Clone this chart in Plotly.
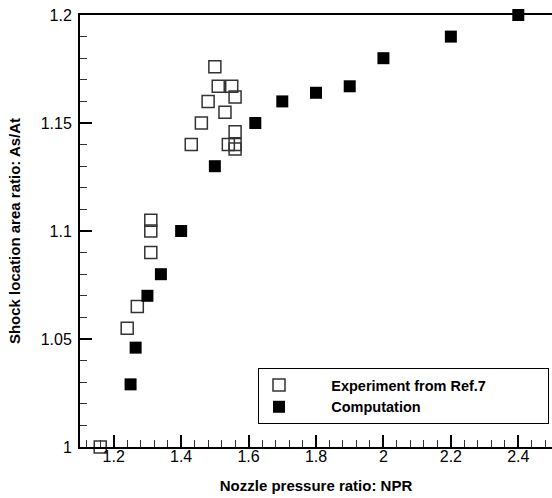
import plotly.graph_objects as go

# Experiment from Ref.7 (open squares)
exp_npr = [1.16, 1.24, 1.27, 1.31, 1.31, 1.31, 1.43, 1.46, 1.48, 1.50, 1.51,
           1.53, 1.54, 1.55, 1.56, 1.56, 1.56, 1.56]
exp_ratio = [1.000, 1.055, 1.065, 1.090, 1.100, 1.105, 1.140, 1.150, 1.160, 1.176, 1.167,
             1.155, 1.140, 1.167, 1.162, 1.146, 1.140, 1.138]

# Computation (filled squares)
comp_npr = [1.25, 1.265, 1.30, 1.34, 1.40, 1.50, 1.62, 1.70, 1.80, 1.90, 2.00, 2.20, 2.40]
comp_ratio = [1.029, 1.046, 1.070, 1.080, 1.100, 1.130, 1.150, 1.160, 1.164, 1.167, 1.180, 1.190, 1.200]

x_tickvals = [1.2, 1.4, 1.6, 1.8, 2.0, 2.2, 2.4]
x_ticktext = ["1.2", "1.4", "1.6", "1.8", "2", "2.2", "2.4"]
y_tickvals = [1.0, 1.05, 1.1, 1.15, 1.2]
y_ticktext = ["1", "1.05", "1.1", "1.15", "1.2"]

FONT = "Arial, 'Liberation Sans', sans-serif"
NB = "\u00a0"
ZW = "\u200b"

fig = go.Figure()
fig.add_trace(go.Scatter(
    x=exp_npr, y=exp_ratio, mode="markers",
    name=NB * 8 + "Experiment from Ref.7" + NB * 14 + ZW,
    marker=dict(symbol="square-open", size=12, color="#333333", line=dict(width=1.5)),
    cliponaxis=False,
))
fig.add_trace(go.Scatter(
    x=comp_npr, y=comp_ratio, mode="markers",
    name=NB * 8 + "Computation",
    marker=dict(symbol="square", size=12, color="black", line=dict(width=0)),
    cliponaxis=False,
))

fig.update_layout(
    width=552, height=498,
    margin=dict(l=80, r=0, t=15, b=51),
    paper_bgcolor="white", plot_bgcolor="white",
    font=dict(family=FONT, color="black"),
    showlegend=True,
    legend=dict(
        x=(258 - 80) / 472, y=(447 - 368) / 432, xanchor="left", yanchor="top",
        bordercolor="black", borderwidth=1, bgcolor="white",
        font=dict(family=FONT, size=14.5, color="black", weight="bold"),
        tracegroupgap=0,
    ),
)

fig.update_xaxes(
    range=[1.1, 2.5],
    tickmode="array", tickvals=x_tickvals, ticktext=x_ticktext,
    ticks="inside", ticklen=12, tickwidth=2, tickcolor="black",
    minor=dict(tickmode="linear", tick0=1.2, dtick=0.04, ticks="inside", ticklen=7,
               tickwidth=1, tickcolor="#333333", showgrid=False),
    showline=True, linewidth=2, linecolor="black", mirror=True,
    showgrid=False, zeroline=False,
    ticklabelstandoff=-6,
    tickfont=dict(family=FONT, size=16, color="black"),
    title=dict(text="Nozzle pressure ratio: NPR", standoff=16,
               font=dict(family=FONT, size=15, color="black", weight="bold")),
    automargin=False,
)
fig.update_yaxes(
    range=[1.0, 1.2],
    tickmode="array", tickvals=y_tickvals, ticktext=y_ticktext,
    ticks="inside", ticklen=12, tickwidth=2, tickcolor="black",
    minor=dict(tickmode="linear", tick0=1.0, dtick=0.01, ticks="inside", ticklen=7,
               tickwidth=1, tickcolor="#333333", showgrid=False),
    showline=True, linewidth=2, linecolor="black", mirror=False,
    showgrid=False, zeroline=False,
    ticklabelstandoff=3,
    tickfont=dict(family=FONT, size=16, color="black"),
    title=dict(text="Shock location area ratio: As/At", standoff=16,
               font=dict(family=FONT, size=15, color="black", weight="bold")),
    automargin=False,
)

fig.write_html("out.html")
